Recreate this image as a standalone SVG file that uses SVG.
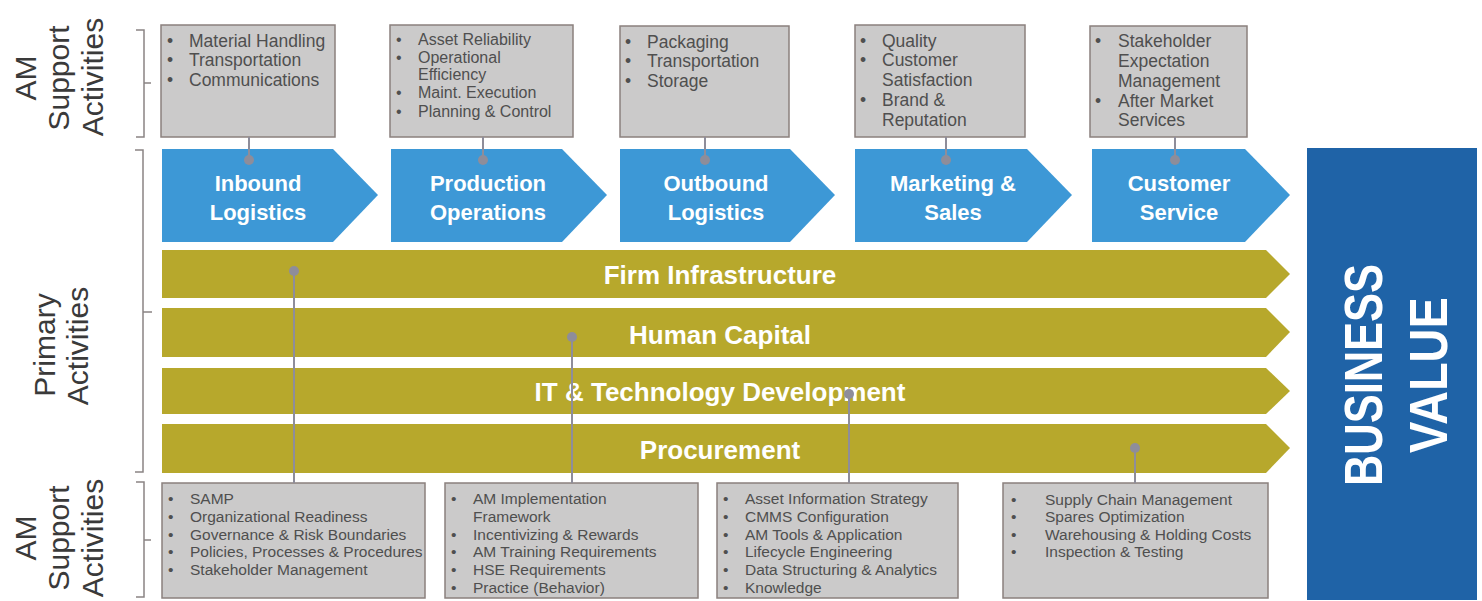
<svg xmlns="http://www.w3.org/2000/svg" width="1482" height="601" viewBox="0 0 1482 601">
<defs>
<style>
.box{fill:#cbcaca;stroke:#8b807d;stroke-width:1.5}
.chev{fill:#3d98d6}
.bar{fill:#b7a82c}
.bv{fill:#1f63a7}
.t{font-family:"Liberation Sans",Arial,sans-serif;fill:#4f4f4f}
.tt{font-size:17.5px}
.t2{font-size:16px}
.tb{font-size:15.5px}
.ct{font-family:"Liberation Sans",Arial,sans-serif;font-weight:bold;font-size:22px;fill:#ffffff;text-anchor:middle}
.bt{font-family:"Liberation Sans",Arial,sans-serif;font-weight:bold;font-size:26px;fill:#ffffff;text-anchor:middle}
.side{font-family:"Liberation Sans",Arial,sans-serif;font-size:30px;fill:#3a3a3a;text-anchor:middle}
.brk{fill:none;stroke:#8a8484;stroke-width:1.5}
.conn line{stroke:#8e8d9a;stroke-width:2}
.conn circle{fill:#8e8d9a}
</style>
</defs>
<rect width="1482" height="601" fill="#ffffff"/>

<!-- side labels -->
<g id="label-top">
<text class="side" transform="translate(35.5,78) rotate(-90)">AM</text>
<text class="side" transform="translate(69,78) rotate(-90)">Support</text>
<text class="side" transform="translate(102.5,77) rotate(-90)">Activities</text>
</g>
<g id="label-primary">
<text class="side" transform="translate(55,345) rotate(-90)">Primary</text>
<text class="side" transform="translate(88,346) rotate(-90)">Activities</text>
</g>
<g id="label-bottom">
<text class="side" transform="translate(35.5,538) rotate(-90)">AM</text>
<text class="side" transform="translate(69,538) rotate(-90)">Support</text>
<text class="side" transform="translate(102.5,538) rotate(-90)">Activities</text>
</g>

<!-- brackets -->
<g id="brackets">
<path class="brk" d="M136,30 H144 V137 H136 M144,83 H151"/>
<path class="brk" d="M135,150 H143 V472 H135 M143,312 H152"/>
<path class="brk" d="M136,482 H144 V597 H136 M144,540 H151"/>
</g>

<!-- top support boxes -->
<g id="box-top-1">
<rect class="box" x="161" y="25" width="174" height="112"/>
<text class="t tt"><tspan x="167" y="47">•</tspan><tspan x="189" y="47">Material Handling</tspan><tspan x="167" y="66">•</tspan><tspan x="189" y="66">Transportation</tspan><tspan x="167" y="86">•</tspan><tspan x="189" y="86">Communications</tspan></text>
</g>
<g id="box-top-2">
<rect class="box" x="390" y="25" width="183" height="112"/>
<text class="t t2"><tspan x="396" y="45">•</tspan><tspan x="418" y="45">Asset Reliability</tspan><tspan x="396" y="63">•</tspan><tspan x="418" y="63">Operational</tspan><tspan x="418" y="80">Efficiency</tspan><tspan x="396" y="98">•</tspan><tspan x="418" y="98">Maint. Execution</tspan><tspan x="396" y="117">•</tspan><tspan x="418" y="117">Planning &amp; Control</tspan></text>
</g>
<g id="box-top-3">
<rect class="box" x="620" y="26" width="169" height="111"/>
<text class="t tt"><tspan x="625" y="48">•</tspan><tspan x="647" y="48">Packaging</tspan><tspan x="625" y="67">•</tspan><tspan x="647" y="67">Transportation</tspan><tspan x="625" y="87">•</tspan><tspan x="647" y="87">Storage</tspan></text>
</g>
<g id="box-top-4">
<rect class="box" x="855" y="25" width="170" height="112"/>
<text class="t tt"><tspan x="860" y="47">•</tspan><tspan x="882" y="47">Quality</tspan><tspan x="860" y="66">•</tspan><tspan x="882" y="66">Customer</tspan><tspan x="882" y="86">Satisfaction</tspan><tspan x="860" y="106">•</tspan><tspan x="882" y="106">Brand &amp;</tspan><tspan x="882" y="126">Reputation</tspan></text>
</g>
<g id="box-top-5">
<rect class="box" x="1090" y="26" width="157" height="111"/>
<text class="t tt"><tspan x="1095" y="47">•</tspan><tspan x="1118" y="47">Stakeholder</tspan><tspan x="1118" y="67">Expectation</tspan><tspan x="1118" y="87">Management</tspan><tspan x="1095" y="107">•</tspan><tspan x="1118" y="107">After Market</tspan><tspan x="1118" y="126">Services</tspan></text>
</g>

<!-- primary chevrons -->
<g id="chev-inbound">
<polygon class="chev" points="162,149 333,149 378,195 333,242 162,242"/>
<text class="ct"><tspan x="258" y="191">Inbound</tspan><tspan x="258" y="220">Logistics</tspan></text>
</g>
<g id="chev-production">
<polygon class="chev" points="391,149 562,149 607,195 562,242 391,242"/>
<text class="ct"><tspan x="488" y="191">Production</tspan><tspan x="488" y="220">Operations</tspan></text>
</g>
<g id="chev-outbound">
<polygon class="chev" points="620,149 790,149 835,195 790,242 620,242"/>
<text class="ct"><tspan x="716" y="191">Outbound</tspan><tspan x="716" y="220">Logistics</tspan></text>
</g>
<g id="chev-marketing">
<polygon class="chev" points="855,149 1027,149 1072,195 1027,242 855,242"/>
<text class="ct"><tspan x="953" y="191">Marketing &amp;</tspan><tspan x="953" y="220">Sales</tspan></text>
</g>
<g id="chev-service">
<polygon class="chev" points="1092,149 1245,149 1290,195 1245,242 1092,242"/>
<text class="ct"><tspan x="1179" y="191">Customer</tspan><tspan x="1179" y="220">Service</tspan></text>
</g>

<!-- support bars -->
<g id="bar-firm">
<polygon class="bar" points="162,250 1266,250 1290,274 1266,298 162,298"/>
<text class="bt" x="720" y="284">Firm Infrastructure</text>
</g>
<g id="bar-human">
<polygon class="bar" points="162,308 1266,308 1290,332 1266,357 162,357"/>
<text class="bt" x="720" y="344">Human Capital</text>
</g>
<g id="bar-it">
<polygon class="bar" points="162,368 1266,368 1290,391 1266,414 162,414"/>
<text class="bt" x="720" y="401">IT &amp; Technology Development</text>
</g>
<g id="bar-procurement">
<polygon class="bar" points="162,424 1266,424 1290,448 1266,473 162,473"/>
<text class="bt" x="720" y="459">Procurement</text>
</g>

<!-- business value -->
<g id="business-value">
<rect class="bv" x="1307" y="148" width="170" height="452"/>
<text font-family="'Liberation Sans',Arial,sans-serif" font-weight="bold" font-size="54" fill="#ffffff" text-anchor="middle" textLength="222" lengthAdjust="spacingAndGlyphs" transform="translate(1382,375) rotate(-90)">BUSINESS</text>
<text font-family="'Liberation Sans',Arial,sans-serif" font-weight="bold" font-size="54" fill="#ffffff" text-anchor="middle" textLength="156" lengthAdjust="spacingAndGlyphs" transform="translate(1447,375) rotate(-90)">VALUE</text>
</g>

<!-- bottom support boxes -->
<g id="box-bottom-1">
<rect class="box" x="162" y="483" width="263" height="115"/>
<text class="t tb"><tspan x="168" y="504">•</tspan><tspan x="190" y="504">SAMP</tspan><tspan x="168" y="522">•</tspan><tspan x="190" y="522">Organizational Readiness</tspan><tspan x="168" y="540">•</tspan><tspan x="190" y="540">Governance &amp; Risk Boundaries</tspan><tspan x="168" y="557">•</tspan><tspan x="190" y="557">Policies, Processes &amp; Procedures</tspan><tspan x="168" y="575">•</tspan><tspan x="190" y="575">Stakeholder Management</tspan></text>
</g>
<g id="box-bottom-2">
<rect class="box" x="445" y="483" width="253" height="115"/>
<text class="t tb"><tspan x="451" y="504">•</tspan><tspan x="473" y="504">AM Implementation</tspan><tspan x="473" y="522">Framework</tspan><tspan x="451" y="540">•</tspan><tspan x="473" y="540">Incentivizing &amp; Rewards</tspan><tspan x="451" y="557">•</tspan><tspan x="473" y="557">AM Training Requirements</tspan><tspan x="451" y="575">•</tspan><tspan x="473" y="575">HSE Requirements</tspan><tspan x="451" y="593">•</tspan><tspan x="473" y="593">Practice (Behavior)</tspan></text>
</g>
<g id="box-bottom-3">
<rect class="box" x="717" y="483" width="241" height="115"/>
<text class="t tb"><tspan x="723" y="504">•</tspan><tspan x="745" y="504">Asset Information Strategy</tspan><tspan x="723" y="522">•</tspan><tspan x="745" y="522">CMMS Configuration</tspan><tspan x="723" y="540">•</tspan><tspan x="745" y="540">AM Tools &amp; Application</tspan><tspan x="723" y="557">•</tspan><tspan x="745" y="557">Lifecycle Engineering</tspan><tspan x="723" y="575">•</tspan><tspan x="745" y="575">Data Structuring &amp; Analytics</tspan><tspan x="723" y="593">•</tspan><tspan x="745" y="593">Knowledge</tspan></text>
</g>
<g id="box-bottom-4">
<rect class="box" x="1003" y="483" width="265" height="115"/>
<text class="t tb"><tspan x="1011" y="505">•</tspan><tspan x="1045" y="505">Supply Chain Management</tspan><tspan x="1011" y="522">•</tspan><tspan x="1045" y="522">Spares Optimization</tspan><tspan x="1011" y="540">•</tspan><tspan x="1045" y="540">Warehousing &amp; Holding Costs</tspan><tspan x="1011" y="557">•</tspan><tspan x="1045" y="557">Inspection &amp; Testing</tspan></text>
</g>

<!-- connectors -->
<g id="connectors" class="conn">
<line x1="249" y1="137" x2="249" y2="160"/><circle cx="249" cy="160" r="5"/>
<line x1="483" y1="137" x2="483" y2="160"/><circle cx="483" cy="160" r="5"/>
<line x1="705" y1="137" x2="705" y2="160"/><circle cx="705" cy="160" r="5"/>
<line x1="946" y1="137" x2="946" y2="160"/><circle cx="946" cy="160" r="5"/>
<line x1="1175" y1="137" x2="1175" y2="160"/><circle cx="1175" cy="160" r="5"/>
<line x1="294" y1="271" x2="294" y2="483"/><circle cx="294" cy="271" r="5"/>
<line x1="572" y1="337" x2="572" y2="483"/><circle cx="572" cy="337" r="5"/>
<line x1="849" y1="394" x2="849" y2="483"/><circle cx="849" cy="394" r="5"/>
<line x1="1135" y1="448" x2="1135" y2="483"/><circle cx="1135" cy="448" r="5"/>
</g>
</svg>
